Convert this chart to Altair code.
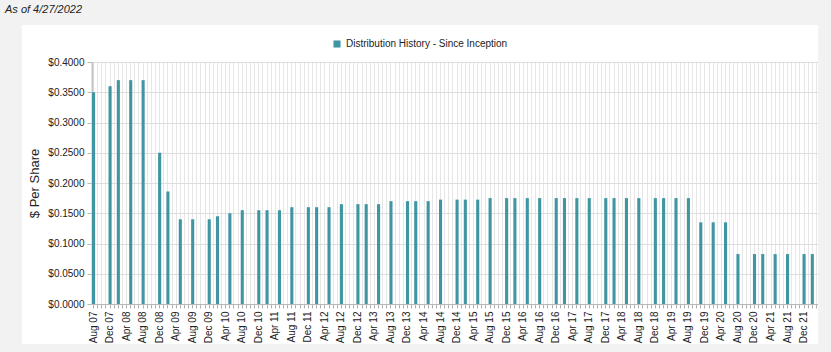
import altair as alt
import pandas as pd

# ---- data -------------------------------------------------------------
series_name = "Distribution History - Since Inception"
as_of_text = "As of 4/27/2022"

pay_months = [
    "Aug 07", "Dec 07", "Feb 08", "May 08", "Aug 08", "Dec 08", "Feb 09", "May 09",
    "Aug 09", "Dec 09", "Feb 10", "May 10", "Aug 10", "Dec 10", "Feb 11", "May 11",
    "Aug 11", "Dec 11", "Feb 12", "May 12", "Aug 12", "Dec 12", "Feb 13", "May 13",
    "Aug 13", "Dec 13", "Feb 14", "May 14", "Aug 14", "Dec 14", "Feb 15", "May 15",
    "Aug 15", "Dec 15", "Feb 16", "May 16", "Aug 16", "Dec 16", "Feb 17", "May 17",
    "Aug 17", "Dec 17", "Feb 18", "May 18", "Aug 18", "Dec 18", "Feb 19", "May 19",
    "Aug 19", "Nov 19", "Feb 20", "May 20", "Aug 20", "Dec 20", "Feb 21", "May 21",
    "Aug 21", "Dec 21", "Feb 22",
]
amounts = [
    0.3500, 0.3600, 0.3700, 0.3700, 0.3700, 0.2500, 0.1860, 0.1400,
    0.1400, 0.1400, 0.1450, 0.1500, 0.1550, 0.1550, 0.1550, 0.1550,
    0.1600, 0.1600, 0.1600, 0.1600, 0.1650, 0.1650, 0.1650, 0.1650,
    0.1700, 0.1700, 0.1700, 0.1700, 0.1725, 0.1725, 0.1725, 0.1725,
    0.1750, 0.1750, 0.1750, 0.1750, 0.1750, 0.1750, 0.1750, 0.1750,
    0.1750, 0.1750, 0.1750, 0.1750, 0.1750, 0.1750, 0.1750, 0.1750,
    0.1750, 0.1350, 0.1350, 0.1350, 0.0825, 0.0825, 0.0825, 0.0825,
    0.0825, 0.0825, 0.0825,
]
# monthly category axis, Aug 2007 .. Mar 2022
all_months = list(pd.date_range("2007-08-01", "2022-03-01", freq="MS").strftime("%b %y"))
y_ticks = [0.0, 0.05, 0.10, 0.15, 0.20, 0.25, 0.30, 0.35, 0.40]

df = pd.DataFrame({"month": pay_months, "amount": amounts, "series": series_name})

TEAL = "#3f95a1"
GRAY_BG = "#f2f2f2"
FONT = "Liberation Sans"
W, H = 726, 242
PL, PT, PR, PB = 92, 62, 13, 48

bars = alt.Chart(df).mark_bar().encode(
    x=alt.X(
        "month:O",
        scale=alt.Scale(domain=all_months, paddingInner=0.25, paddingOuter=0),
        axis=alt.Axis(
            title=None,
            labelAngle=-90,
            labelExpr="(slice(datum.value,0,3)=='Aug'||slice(datum.value,0,3)=='Dec'||slice(datum.value,0,3)=='Apr') ? datum.label : ''",
            labelFontSize=10,
            labelFont=FONT,
            labelColor="#222222",
            labelPadding=3,
            labelOverlap=False,
            labelBound=False,
            tickColor="#b0b0b0",
            tickSize=4,
            domainColor="#b8b8b8",
            domainWidth=1,
            grid=True,
            gridColor="#e6e6e6",
            gridWidth=1,
        ),
    ),
    y=alt.Y(
        "amount:Q",
        scale=alt.Scale(domain=[0, 0.4], nice=False),
        axis=alt.Axis(
            title="$ Per Share",
            titleFont=FONT,
            titleFontSize=13,
            titleFontWeight="normal",
            titleColor="#222222",
            titlePadding=6,
            values=y_ticks,
            format="$.4f",
            labelFont=FONT,
            labelFontSize=10,
            labelColor="#222222",
            labelPadding=3,
            tickColor="#b8b8b8",
            tickSize=5,
            domainColor="#c4c4c4",
            domainWidth=2,
            gridColor="#dedede",
            gridWidth=1,
        ),
    ),
    color=alt.Color(
        "series:N",
        scale=alt.Scale(domain=[series_name], range=[TEAL]),
        legend=alt.Legend(
            title=None,
            orient="none",
            legendX=240,
            legendY=-23,
            symbolType="square",
            symbolSize=50,
            labelFont=FONT,
            labelFontSize=10,
            labelColor="#222222",
            labelLimit=0,
            padding=0,
        ),
    ),
)

def strip(x1, x2, y1, y2):
    return alt.Chart(alt.Data(values=[{}])).mark_rect(color=GRAY_BG).encode(
        x=alt.value(x1), x2=alt.value(x2), y=alt.value(y1), y2=alt.value(y2)
    )

frame = (
    strip(-PL, W + PR, -PT, -37)          # top strip
    + strip(-PL, -70, -PT, H + PB)        # left strip
    + strip(W, W + PR, -PT, H + PB)       # right strip
    + strip(-PL, W + PR, 282, H + PB)     # bottom strip
)

as_of = alt.Chart(alt.Data(values=[{}])).mark_text(
    text=as_of_text,
    align="left",
    baseline="middle",
    font=FONT,
    fontSize=11,
    fontStyle="italic",
    color="#222222",
).encode(x=alt.value(5 - PL), y=alt.value(10 - PT))

chart = alt.layer(bars, frame, as_of).properties(
    width=W,
    height=H,
    autosize=alt.AutoSizeParams(type="none"),
    padding={"left": PL, "top": PT, "right": PR, "bottom": PB},
    background="white",
).configure_view(stroke=None)

chart.save("out.html", embed_options={"renderer": "svg", "actions": False})
